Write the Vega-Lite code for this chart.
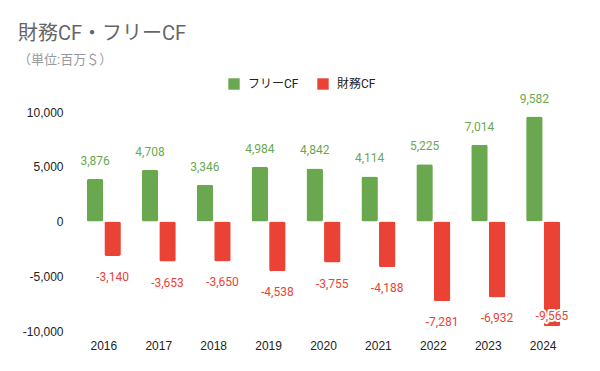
{
  "$schema": "https://vega.github.io/schema/vega-lite/v6.json",
  "width": 497,
  "height": 219,
  "autosize": {"type": "none"},
  "padding": {"left": 75, "top": 112, "right": 28, "bottom": 40},
  "title": {
    "text": "財務CF・フリーCF",
    "subtitle": "（単位:百万＄）",
    "anchor": "start",
    "frame": "group",
    "dx": -57,
    "offset": 11,
    "fontSize": 20,
    "fontWeight": "normal",
    "color": "#666666",
    "subtitleColor": "#999999",
    "subtitleFontSize": 13,
    "subtitlePadding": 10,
    "font": "Roboto, Noto Sans CJK JP, sans-serif",
    "subtitleFont": "Roboto, Noto Sans CJK JP, sans-serif"
  },
  "config": {
    "locale": {"number": {"decimal": ".", "thousands": ",", "grouping": [3], "currency": ["$", ""], "minus": "-"}},
    "view": {"stroke": null},
    "font": "Roboto, Noto Sans CJK JP, sans-serif"
  },
  "data": {
    "values": [
      {"year": "2016", "type": "フリーCF", "value": 3876},
      {"year": "2016", "type": "財務CF", "value": -3140},
      {"year": "2017", "type": "フリーCF", "value": 4708},
      {"year": "2017", "type": "財務CF", "value": -3653},
      {"year": "2018", "type": "フリーCF", "value": 3346},
      {"year": "2018", "type": "財務CF", "value": -3650},
      {"year": "2019", "type": "フリーCF", "value": 4984},
      {"year": "2019", "type": "財務CF", "value": -4538},
      {"year": "2020", "type": "フリーCF", "value": 4842},
      {"year": "2020", "type": "財務CF", "value": -3755},
      {"year": "2021", "type": "フリーCF", "value": 4114},
      {"year": "2021", "type": "財務CF", "value": -4188},
      {"year": "2022", "type": "フリーCF", "value": 5225},
      {"year": "2022", "type": "財務CF", "value": -7281},
      {"year": "2023", "type": "フリーCF", "value": 7014},
      {"year": "2023", "type": "財務CF", "value": -6932},
      {"year": "2024", "type": "フリーCF", "value": 9582},
      {"year": "2024", "type": "財務CF", "value": -9565}
    ]
  },
  "encoding": {
    "x": {
      "field": "year", "type": "nominal",
      "scale": {"paddingInner": 0.38, "paddingOuter": 0.215},
      "axis": {"title": null, "domain": false, "ticks": false, "labelAngle": 0, "labelPadding": 9, "labelFontSize": 12, "labelColor": "#222222", "labelFont": "Liberation Sans, Arial, sans-serif"}
    },
    "xOffset": {"field": "type", "type": "nominal", "sort": ["フリーCF", "財務CF"], "scale": {"paddingInner": 0.06}},
    "y": {
      "field": "value", "type": "quantitative",
      "scale": {"domain": [-10000, 10000], "nice": false},
      "axis": {"title": null, "values": [-10000, -5000, 0, 5000, 10000], "format": ",d", "grid": false, "domain": false, "ticks": false, "labelPadding": 12, "labelFontSize": 12, "labelColor": "#222222", "labelFont": "Liberation Sans, Arial, sans-serif"}
    },
    "color": {
      "field": "type", "type": "nominal",
      "scale": {"domain": ["フリーCF", "財務CF"], "range": ["#6aa84f", "#ea4335"]},
      "legend": {"title": null, "orient": "none", "legendX": 153, "legendY": -34, "direction": "horizontal", "symbolType": "square", "symbolSize": 130, "symbolStrokeWidth": 0, "labelFontSize": 12, "labelColor": "#222222", "columnPadding": 18, "labelOffset": 8}
    }
  },
  "layer": [
    {"mark": {"type": "bar", "cornerRadius": 2}},
    {
      "transform": [{"filter": "datum.type === 'フリーCF'"}],
      "mark": {"type": "text", "dy": -18, "baseline": "middle", "fontSize": 12},
      "encoding": {"text": {"field": "value", "type": "quantitative", "format": ","}}
    },
    {
      "transform": [{"filter": "datum.type === '財務CF' && datum.value > -9000"}],
      "mark": {"type": "text", "dy": 21, "baseline": "middle", "fontSize": 12},
      "encoding": {"text": {"field": "value", "type": "quantitative", "format": ","}}
    },
    {
      "transform": [{"filter": "datum.type === '財務CF' && datum.value <= -9000"}],
      "mark": {"type": "text", "dy": -10, "baseline": "middle", "fontSize": 12, "fill": "white", "stroke": "white", "strokeWidth": 4, "strokeJoin": "round"},
      "encoding": {"text": {"field": "value", "type": "quantitative", "format": ","}, "color": {"value": "white"}}
    },
    {
      "transform": [{"filter": "datum.type === '財務CF' && datum.value <= -9000"}],
      "mark": {"type": "text", "dy": -10, "baseline": "middle", "fontSize": 12},
      "encoding": {"text": {"field": "value", "type": "quantitative", "format": ","}}
    }
  ]
}
